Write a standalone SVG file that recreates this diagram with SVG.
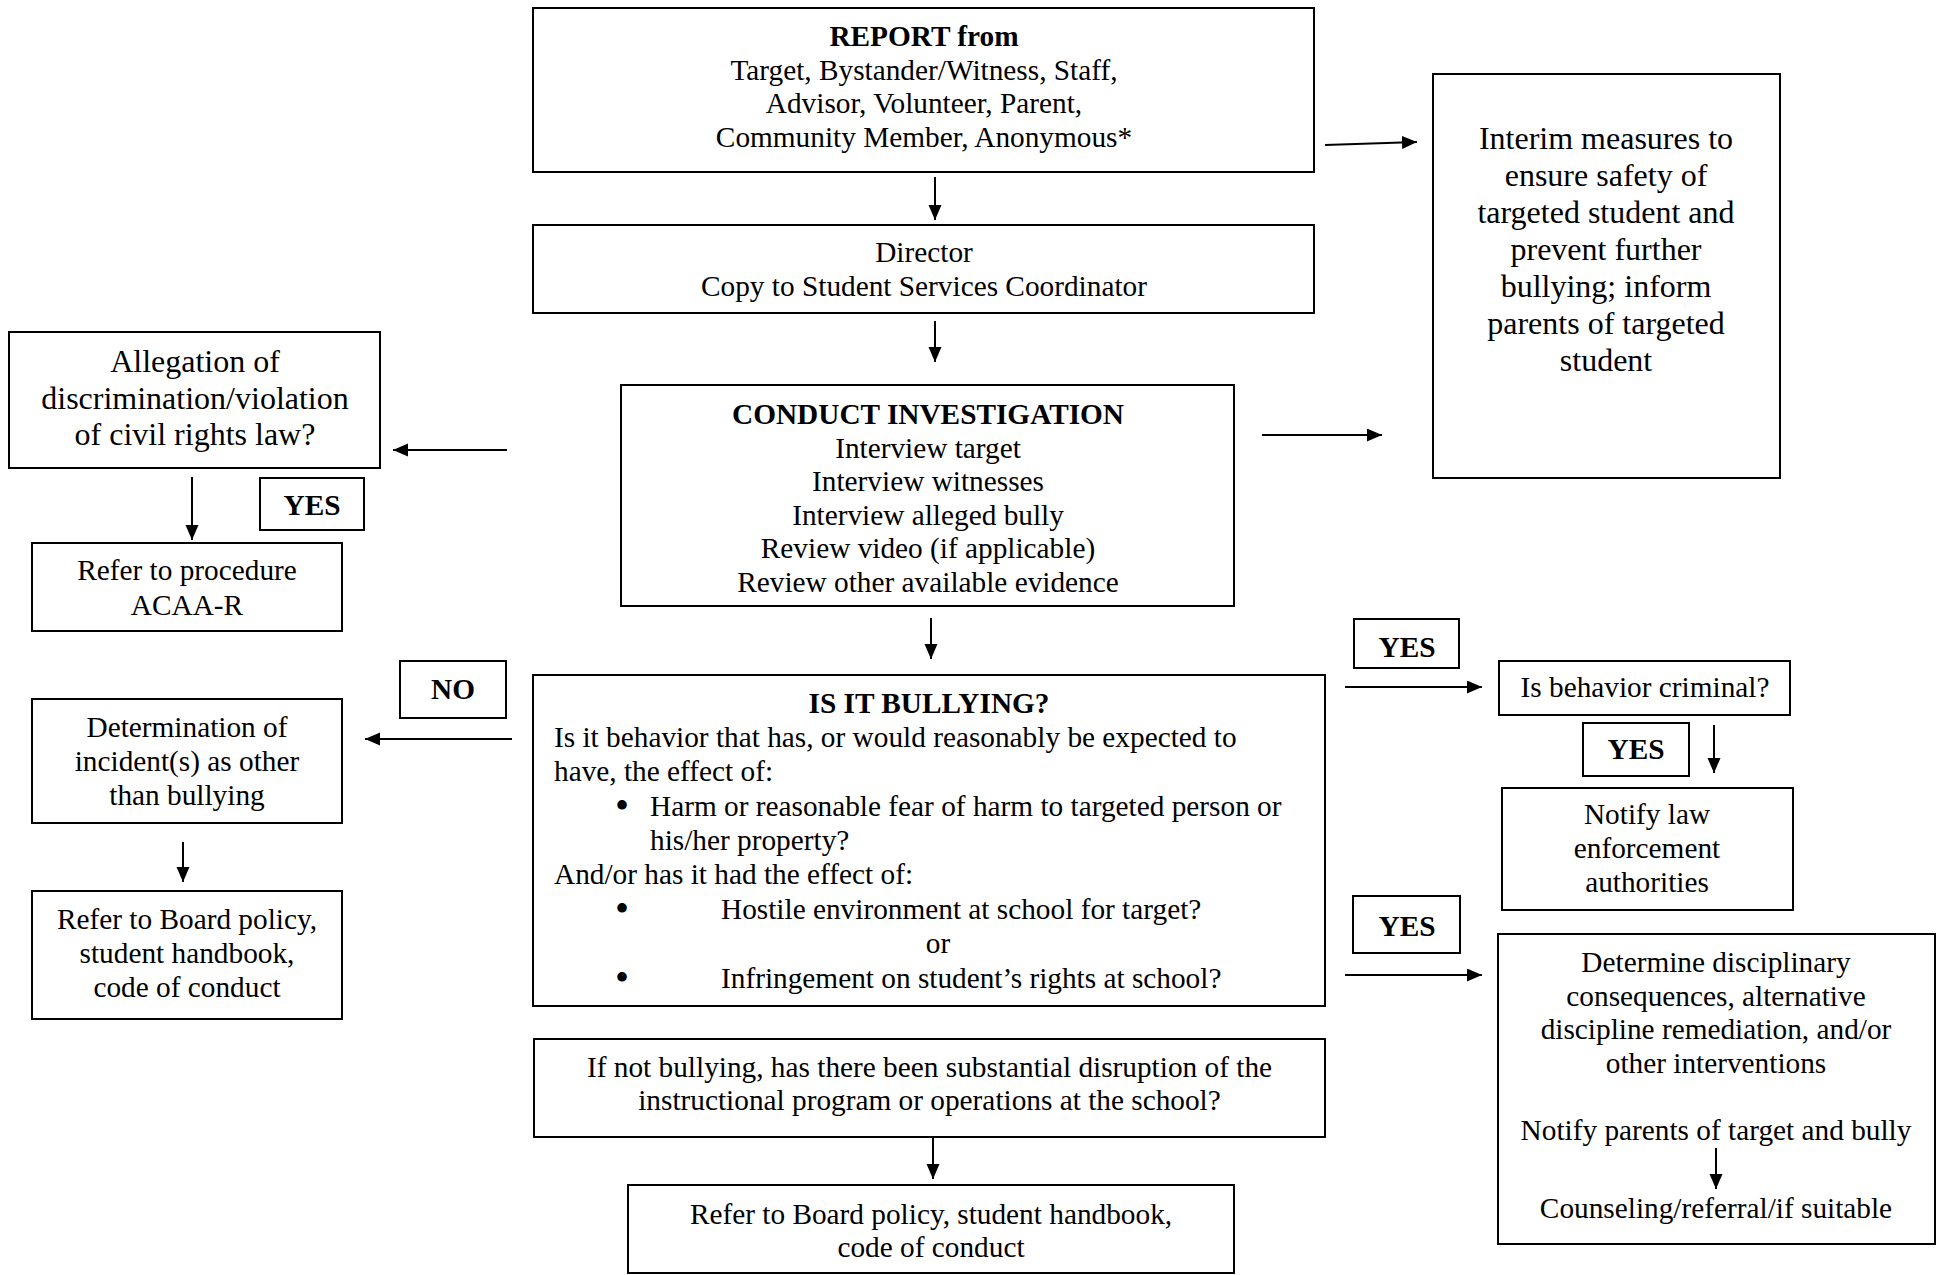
<svg xmlns="http://www.w3.org/2000/svg" width="1937" height="1275" viewBox="0 0 1937 1275">
<style>
.box{fill:#fff;stroke:#000;stroke-width:2}
text{font-family:"Liberation Serif","Times New Roman",serif;font-size:29.3px;fill:#000}
.c{text-anchor:middle}
.b{font-weight:bold}
.lg{font-size:32px}
.bul{font-size:40px}
.conn line{stroke:#000;stroke-width:2;marker-end:url(#ah)}
</style>
<defs>
<marker id="ah" markerUnits="userSpaceOnUse" markerWidth="16" markerHeight="14" refX="15" refY="6.5" orient="auto">
<path d="M0,0 L15,6.5 L0,13 Z" fill="#000"/>
</marker>
</defs>
<rect width="1937" height="1275" fill="#fff"/>

<g id="report">
<rect class="box" x="533" y="8" width="781" height="164"/>
<text class="c b" x="924" y="46">REPORT from</text>
<text class="c" x="924" y="79.5">Target, Bystander/Witness, Staff,</text>
<text class="c" x="924" y="113">Advisor, Volunteer, Parent,</text>
<text class="c" x="924" y="146.5">Community Member, Anonymous*</text>
</g>

<g id="director">
<rect class="box" x="533" y="225" width="781" height="88"/>
<text class="c" x="924" y="262">Director</text>
<text class="c" x="924" y="296">Copy to Student Services Coordinator</text>
</g>

<g id="interim">
<rect class="box" x="1433" y="74" width="347" height="404"/>
<text class="c lg" x="1606" y="149">Interim measures to</text>
<text class="c lg" x="1606" y="186">ensure safety of</text>
<text class="c lg" x="1606" y="223">targeted student and</text>
<text class="c lg" x="1606" y="260">prevent further</text>
<text class="c lg" x="1606" y="297">bullying; inform</text>
<text class="c lg" x="1606" y="334">parents of targeted</text>
<text class="c lg" x="1606" y="371">student</text>
</g>

<g id="conduct">
<rect class="box" x="621" y="385" width="613" height="221"/>
<text class="c b" x="928" y="424">CONDUCT INVESTIGATION</text>
<text class="c" x="928" y="457.5">Interview target</text>
<text class="c" x="928" y="491">Interview witnesses</text>
<text class="c" x="928" y="524.5">Interview alleged bully</text>
<text class="c" x="928" y="558">Review video (if applicable)</text>
<text class="c" x="928" y="591.5">Review other available evidence</text>
</g>

<g id="allegation">
<rect class="box" x="9" y="332" width="371" height="136"/>
<text class="c lg" x="195" y="372">Allegation of</text>
<text class="c lg" x="195" y="408.5">discrimination/violation</text>
<text class="c lg" x="195" y="445">of civil rights law?</text>
</g>

<g id="yes-civil">
<rect class="box" x="260" y="478" width="104" height="52"/>
<text class="c b" x="312" y="515">YES</text>
</g>

<g id="procedure">
<rect class="box" x="32" y="543" width="310" height="88"/>
<text class="c" x="187" y="580">Refer to procedure</text>
<text class="c" x="187" y="615">ACAA-R</text>
</g>

<g id="no-label">
<rect class="box" x="400" y="661" width="106" height="57"/>
<text class="c b" x="453" y="699">NO</text>
</g>

<g id="determination">
<rect class="box" x="32" y="699" width="310" height="124"/>
<text class="c" x="187" y="737">Determination of</text>
<text class="c" x="187" y="771">incident(s) as other</text>
<text class="c" x="187" y="805">than bullying</text>
</g>

<g id="board-left">
<rect class="box" x="32" y="891" width="310" height="128"/>
<text class="c" x="187" y="929">Refer to Board policy,</text>
<text class="c" x="187" y="963">student handbook,</text>
<text class="c" x="187" y="997">code of conduct</text>
</g>

<g id="bullying">
<rect class="box" x="533" y="675" width="792" height="331"/>
<text class="c b" x="929" y="713">IS IT BULLYING?</text>
<text x="554" y="747">Is it behavior that has, or would reasonably be expected to</text>
<text x="554" y="781">have, the effect of:</text>
<text class="c bul" x="622" y="819">•</text>
<text x="650" y="816">Harm or reasonable fear of harm to targeted person or</text>
<text x="650" y="850">his/her property?</text>
<text x="554" y="884">And/or has it had the effect of:</text>
<text class="c bul" x="622" y="922">•</text>
<text x="721" y="919">Hostile environment at school for target?</text>
<text class="c" x="938" y="953">or</text>
<text class="c bul" x="622" y="991">•</text>
<text x="721" y="988">Infringement on student’s rights at school?</text>
</g>

<g id="yes-criminal">
<rect class="box" x="1354" y="619" width="105" height="49"/>
<text class="c b" x="1407" y="657">YES</text>
</g>

<g id="criminal">
<rect class="box" x="1499" y="661" width="291" height="54"/>
<text class="c" x="1645" y="697">Is behavior criminal?</text>
</g>

<g id="yes-law">
<rect class="box" x="1583" y="723" width="106" height="53"/>
<text class="c b" x="1636" y="759">YES</text>
</g>

<g id="law">
<rect class="box" x="1502" y="788" width="291" height="122"/>
<text class="c" x="1647" y="824">Notify law</text>
<text class="c" x="1647" y="858">enforcement</text>
<text class="c" x="1647" y="892">authorities</text>
</g>

<g id="yes-discipline">
<rect class="box" x="1353" y="896" width="107" height="57"/>
<text class="c b" x="1407" y="936">YES</text>
</g>

<g id="discipline">
<rect class="box" x="1498" y="934" width="437" height="310"/>
<text class="c" x="1716" y="972">Determine disciplinary</text>
<text class="c" x="1716" y="1005.5">consequences, alternative</text>
<text class="c" x="1716" y="1039">discipline remediation, and/or</text>
<text class="c" x="1716" y="1072.5">other interventions</text>
<text class="c" x="1716" y="1140">Notify parents of target and bully</text>
<text class="c" x="1716" y="1218">Counseling/referral/if suitable</text>
</g>

<g id="not-bullying">
<rect class="box" x="534" y="1039" width="791" height="98"/>
<text class="c" x="929.5" y="1077">If not bullying, has there been substantial disruption of the</text>
<text class="c" x="929.5" y="1110">instructional program or operations at the school?</text>
</g>

<g id="board-bottom">
<rect class="box" x="628" y="1185" width="606" height="88"/>
<text class="c" x="931" y="1224">Refer to Board policy, student handbook,</text>
<text class="c" x="931" y="1257">code of conduct</text>
</g>

<g id="connectors" class="conn">
<line x1="1325" y1="145" x2="1417" y2="142"/>
<line x1="935" y1="177" x2="935" y2="220"/>
<line x1="935" y1="321" x2="935" y2="362"/>
<line x1="1262" y1="435" x2="1382" y2="435"/>
<line x1="507" y1="450" x2="393" y2="450"/>
<line x1="192" y1="477" x2="192" y2="540"/>
<line x1="931" y1="618" x2="931" y2="659"/>
<line x1="512" y1="739" x2="365" y2="739"/>
<line x1="183" y1="842" x2="183" y2="882"/>
<line x1="1345" y1="687" x2="1482" y2="687"/>
<line x1="1714" y1="725" x2="1714" y2="773"/>
<line x1="1345" y1="975" x2="1482" y2="975"/>
<line x1="1716" y1="1148" x2="1716" y2="1189"/>
<line x1="933" y1="1137" x2="933" y2="1179"/>
</g>
</svg>
